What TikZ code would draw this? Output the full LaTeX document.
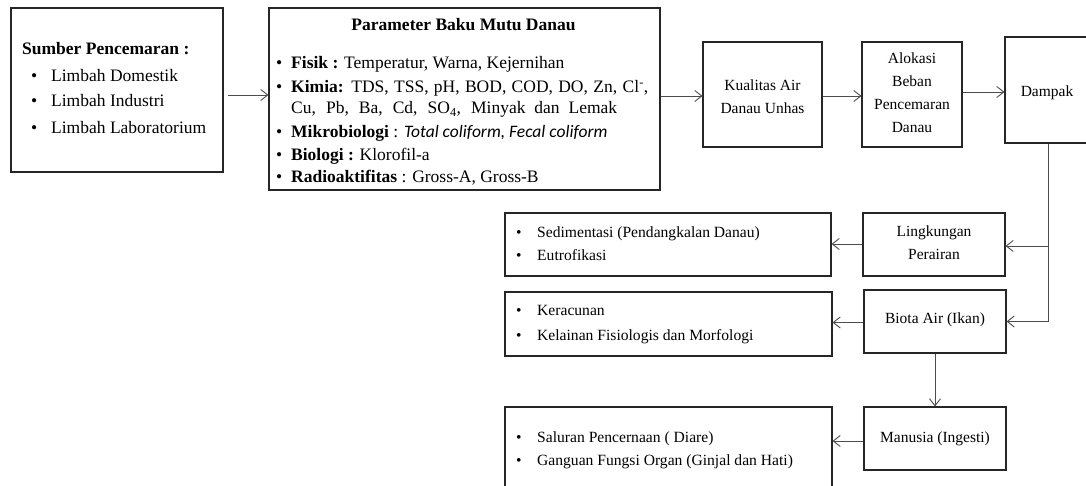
\documentclass[tikz,border=0pt]{standalone}
\usepackage{fontspec}
\setmainfont{Liberation Serif}
\newfontfamily\calfont{Carlito}
\usetikzlibrary{arrows.meta}
\tikzset{
  box/.style={draw=black!85, line width=1.1pt, inner sep=0pt},
  txt/.style={anchor=base west, inner sep=0pt, font=\fontsize{15.6}{18}\selectfont},
  btxt/.style={anchor=base west, inner sep=0pt, font=\fontsize{17.5}{20}\selectfont},
  ctxt/.style={align=center, inner sep=0pt, font=\fontsize{15.5}{23}\selectfont},
  conn/.style={draw=black!70, line width=0.9pt, -{Straight Barb[length=7pt,width=11pt]}},
}
\newcommand{\bul}{\makebox[15pt][l]{\textbullet}}
\begin{document}
\begin{tikzpicture}[x=1pt,y=-1pt]
\fill[white] (0,0) rectangle (1086,486);
\useasboundingbox (0,0) rectangle (1086,486);

% boxes
\node[box, minimum width=212pt, minimum height=164pt] (src) at (117,90) {};
\node[box, minimum width=391pt, minimum height=182pt] (param) at (464.5,99) {};
\node[box, minimum width=119pt, minimum height=105pt] (kual) at (762.5,94.5) {};
\node[box, minimum width=100pt, minimum height=105pt] (alok) at (912,94.5) {};
\node[box, minimum width=84pt, minimum height=106pt] (damp) at (1047,90) {};
\node[box, minimum width=142pt, minimum height=63pt] (ling) at (934,244.5) {};
\node[box, minimum width=142pt, minimum height=63pt] (bio) at (935,321.5) {};
\node[box, minimum width=142pt, minimum height=63pt] (man) at (935,438.5) {};
\node[box, minimum width=326pt, minimum height=63pt] (sed) at (668,244.5) {};
\node[box, minimum width=327pt, minimum height=64pt] (ker) at (668.5,324) {};
\node[box, minimum width=327pt, minimum height=90pt] (bot) at (668.5,452) {};

% Sumber text
\node[btxt] (s0) at (22,55) {\textbf{Sumber Pencemaran :}};
\node[btxt] (s1) at (31,82) {\makebox[20pt][l]{\textbullet}Limbah Domestik};
\node[btxt] (s2) at (31,107) {\makebox[20pt][l]{\textbullet}Limbah Industri};
\node[btxt] (s3) at (31,134) {\makebox[20pt][l]{\textbullet}Limbah Laboratorium};

% Parameter text
\node[btxt, anchor=base] (p0) at (463.5,31) {\textbf{Parameter Baku Mutu Danau}};
\node[btxt] (p1) at (276,69) {\bul\textbf{Fisik :} Temperatur, Warna, Kejernihan};
\node[btxt] (p2) at (276,93) {\bul\makebox[357pt][s]{\textbf{Kimia:} TDS, TSS, pH, BOD, COD, DO, Zn, Cl\textsuperscript{-},}};
\node[btxt] (p3) at (291,114) {\makebox[326pt][s]{Cu, Pb, Ba, Cd, SO\textsubscript{4}, Minyak dan Lemak}};
\node[btxt] (p4) at (276,138) {\bul\textbf{Mikrobiologi} : {\calfont\itshape Total coliform, Fecal coliform}};
\node[btxt] (p5) at (276,161) {\bul\textbf{Biologi :} Klorofil-a};
\node[btxt] (p6) at (276,183) {\bul\textbf{Radioaktifitas} : Gross-A, Gross-B};

% centred box texts
\node[ctxt] (kualT) at (762.5,96.5) {Kualitas Air\\Danau Unhas};
\node[ctxt] (alokT) at (912,92.5) {Alokasi\\Beban\\Pencemaran\\Danau};
\node[ctxt] (dampT) at (1047,93) {Dampak};
\node[ctxt] (lingT) at (934,242.5) {Lingkungan\\Perairan};
\node[ctxt] (bioT) at (935,320) {Biota Air (Ikan)};
\node[ctxt] (manT) at (935,439) {Manusia (Ingesti)};

% list texts
\node[txt] (e1) at (516,237) {\makebox[21pt][l]{\textbullet}Sedimentasi (Pendangkalan Danau)};
\node[txt] (e2) at (516,260) {\makebox[21pt][l]{\textbullet}Eutrofikasi};
\node[txt] (k1) at (516,315) {\makebox[21pt][l]{\textbullet}Keracunan};
\node[txt] (k2) at (516,340) {\makebox[21pt][l]{\textbullet}Kelainan Fisiologis dan Morfologi};
\node[txt] (m1) at (516,442) {\makebox[21pt][l]{\textbullet}Saluran Pencernaan ( Diare)};
\node[txt] (m2) at (516,465) {\makebox[21pt][l]{\textbullet}Ganguan Fungsi Organ (Ginjal dan  Hati)};

% connectors
\draw[conn] ([yshift=-5pt,xshift=4pt]src.east) -- ([yshift=-5pt]src.east -| param.west);
\draw[conn] ([yshift=3pt]param.east) -- ([yshift=3pt]param.east -| kual.west);
\draw[conn] ([yshift=-1.5pt]kual.east) -- ([yshift=-1.5pt]kual.east -| alok.west);
\draw[conn] ([yshift=2.5pt]alok.east) -- ([yshift=2.5pt]alok.east -| damp.west);
\coordinate (dd) at ([xshift=1pt]damp.south);
\draw[conn] (dd) |- (bio.east);
\draw[conn] ([yshift=-1.5pt]dd |- ling.east) -- ([yshift=-1.5pt]ling.east);
\draw[conn] ([yshift=0.5pt]ling.west) -- ([yshift=0.5pt]ling.west -| sed.east);
\draw[conn] ([yshift=-1pt]bio.west) -- ([yshift=-1pt]bio.west -| ker.east);
\draw[conn] (bio.south) -- (man.north);
\draw[conn] ([yshift=-2.5pt]man.west) -- ([yshift=-2.5pt]man.west -| bot.east);
\end{tikzpicture}
\end{document}
